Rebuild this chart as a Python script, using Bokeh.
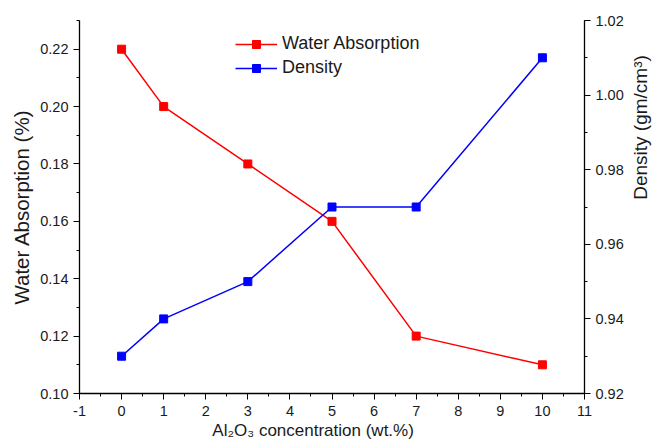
import math
from bokeh.plotting import figure
from bokeh.layouts import row
from bokeh.models import (Range1d, LinearAxis, SingleIntervalTicker, Legend,
                          LegendItem, NumeralTickFormatter, Label)
from bokeh.embed import file_html
from bokeh.resources import INLINE

conc = [0, 1, 3, 5, 7, 10]
water_absorption = [0.22, 0.20, 0.18, 0.16, 0.12, 0.11]
density = [0.93, 0.94, 0.95, 0.97, 0.97, 1.01]

FONT = "Liberation Sans"
TXT = "#1a1a1a"

p = figure(width=630, height=447, output_backend="svg", toolbar_location=None,
           x_range=Range1d(-1, 11), y_range=Range1d(0.10, 0.23),
           min_border_left=79, min_border_right=46, min_border_top=20, min_border_bottom=54)
p.extra_y_ranges = {"d": Range1d(0.92, 1.02)}
p.outline_line_color = None
p.xgrid.visible = False
p.ygrid.visible = False
p.background_fill_color = "white"
p.border_fill_color = "white"

r1l = p.line(conc, water_absorption, line_color="#FF0000", line_width=1.5)
r1s = p.scatter(conc, water_absorption, marker="square", size=8, fill_color="#FF0000", line_color="#FF0000")
r2l = p.line(conc, density, line_color="#0000FF", line_width=1.5, y_range_name="d")
r2s = p.scatter(conc, density, marker="square", size=8, fill_color="#0000FF", line_color="#0000FF", y_range_name="d")

right = LinearAxis(y_range_name="d")
p.add_layout(right, "right")

def style(ax, interval, fmt):
    ax.ticker = SingleIntervalTicker(interval=interval, num_minor_ticks=2)
    ax.formatter = NumeralTickFormatter(format=fmt)
    ax.axis_line_color = "black"
    ax.axis_line_width = 1.3
    ax.major_tick_line_color = "black"
    ax.minor_tick_line_color = "black"
    ax.major_tick_out = 6
    ax.major_tick_in = 0
    ax.minor_tick_out = 3
    ax.minor_tick_in = 0
    ax.major_label_text_font = FONT
    ax.major_label_text_font_size = "14.5px"
    ax.major_label_text_color = TXT
    ax.axis_label_text_font = FONT
    ax.axis_label_text_font_style = "normal"
    ax.axis_label_text_color = TXT

style(p.xaxis[0], 1, "0")
style(p.yaxis[0], 0.02, "0.00")
style(right, 0.02, "0.00")
p.xaxis[0].axis_label = "Al₂O₃ concentration (wt.%)" + "\u00a0" * 8
p.xaxis[0].axis_label_text_font_size = "17px"
p.yaxis[0].axis_label = "Water Absorption (%)"
p.yaxis[0].axis_label_text_font_size = "20.5px"
p.yaxis[0].axis_label_standoff = 4
p.xaxis[0].major_label_standoff = 6
p.xaxis[0].axis_label_standoff = 2

legend = Legend(items=[LegendItem(label="Water Absorption", renderers=[r1l, r1s]),
                       LegendItem(label="Density", renderers=[r2l, r2s])],
                location=(156, 315), glyph_width=42, glyph_height=20, label_height=20,
                spacing=3, padding=10, label_standoff=5,
                border_line_color=None, background_fill_alpha=0,
                label_text_font=FONT, label_text_font_size="18px", label_text_color=TXT)
p.add_layout(legend)

# narrow strip to the right carrying the right-hand axis title, reading bottom-to-top
p2 = figure(width=22, height=447, output_backend="svg", toolbar_location=None,
            x_range=Range1d(0, 1), y_range=Range1d(0, 1),
            x_axis_location=None, y_axis_location=None,
            min_border_left=0, min_border_right=0, min_border_top=0, min_border_bottom=0)
p2.outline_line_color = None
p2.grid.visible = False
p2.background_fill_color = "white"
p2.border_fill_color = "white"
p2.add_layout(Label(x=10, y=447 - 181, x_units="screen", y_units="screen",
                    text="Density (gm/cm³)", angle=math.pi / 2,
                    text_align="center", text_baseline="middle",
                    text_font=FONT, text_font_size="19px", text_color=TXT))

layout = row(p, p2, spacing=0)
open("out.html", "w").write(file_html(layout, INLINE))
